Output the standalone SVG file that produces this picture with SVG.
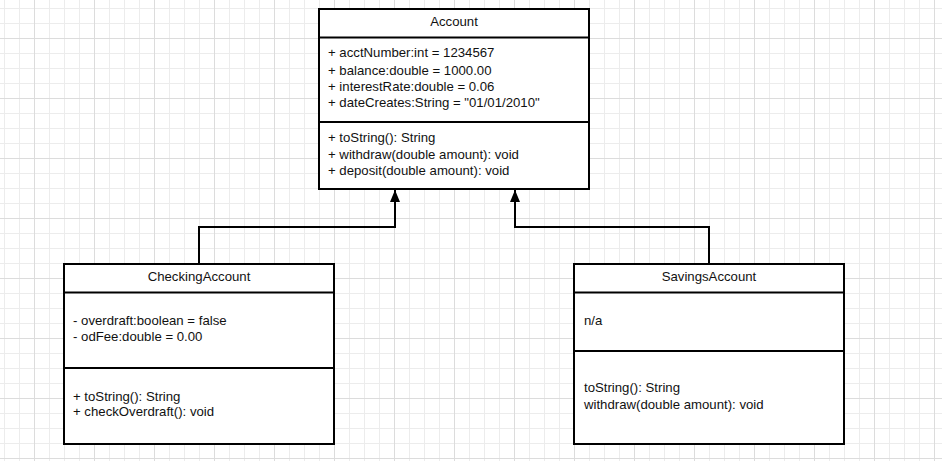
<svg xmlns="http://www.w3.org/2000/svg" width="942" height="461" viewBox="0 0 942 461">
  <style>
    .box { fill: #ffffff; stroke: #000000; stroke-width: 2; }
    .div { stroke: #000000; stroke-width: 2; fill: none; }
    .t { font-family: "Liberation Sans", Arial, sans-serif; font-size: 13.2px; fill: #111111; }
    .c { text-anchor: middle; }
    .edge { fill: none; stroke: #000000; stroke-width: 2; }
  </style>
  <defs>
    <pattern id="grid" patternUnits="userSpaceOnUse" x="34" y="38" width="60" height="60">
      <path d="M15.5 0V60M30.5 0V60M45.5 0V60M0 15.5H60M0 30.5H60M0 45.5H60" stroke="#ececec" stroke-width="1" fill="none"/>
      <path d="M0.5 0V60M0 0.5H60" stroke="#dcdcdc" stroke-width="1" fill="none"/>
    </pattern>
    <marker id="arrow" markerUnits="userSpaceOnUse" markerWidth="12" markerHeight="14" refX="12" refY="6" orient="auto" viewBox="0 0 12 12">
      <path d="M0 1 L12 6 L0 11 Z" fill="#000000"/>
    </marker>
  </defs>
  <rect width="942" height="461" fill="#ffffff"/>
  <rect width="942" height="461" fill="url(#grid)"/>

  <g id="connectors">
    <path class="edge" d="M199 264 V227 H395 V190" marker-end="url(#arrow)"/>
    <path class="edge" d="M709 264 V227 H515 V190" marker-end="url(#arrow)"/>
  </g>

  <g id="Account">
    <rect class="box" x="319" y="9" width="270" height="180"/>
    <line class="div" x1="319" y1="37.5" x2="589" y2="37.5"/>
    <line class="div" x1="319" y1="122" x2="589" y2="122"/>
    <text class="t c" x="454" y="26">Account</text>
    <text class="t" x="328" y="57">+ acctNumber:int = 1234567</text>
    <text class="t" x="328" y="74.5">+ balance:double = 1000.00</text>
    <text class="t" x="328" y="90.5">+ interestRate:double = 0.06</text>
    <text class="t" x="328" y="106.5">+ dateCreates:String = "01/01/2010"</text>
    <text class="t" x="328" y="141.5">+ toString(): String</text>
    <text class="t" x="328" y="158.5">+ withdraw(double amount): void</text>
    <text class="t" x="328" y="174.5">+ deposit(double amount): void</text>
  </g>

  <g id="CheckingAccount">
    <rect class="box" x="64" y="264" width="270" height="180"/>
    <line class="div" x1="64" y1="292.5" x2="334" y2="292.5"/>
    <line class="div" x1="64" y1="368" x2="334" y2="368"/>
    <text class="t c" x="199" y="281">CheckingAccount</text>
    <text class="t" x="73" y="325">- overdraft:boolean = false</text>
    <text class="t" x="73" y="340.5">- odFee:double = 0.00</text>
    <text class="t" x="73" y="401">+ toString(): String</text>
    <text class="t" x="73" y="416">+ checkOverdraft(): void</text>
  </g>

  <g id="SavingsAccount">
    <rect class="box" x="574" y="264" width="270" height="180"/>
    <line class="div" x1="574" y1="292.5" x2="844" y2="292.5"/>
    <line class="div" x1="574" y1="351" x2="844" y2="351"/>
    <text class="t c" x="709" y="281">SavingsAccount</text>
    <text class="t" x="584" y="325">n/a</text>
    <text class="t" x="584" y="392">toString(): String</text>
    <text class="t" x="584" y="408.5">withdraw(double amount): void</text>
  </g>
</svg>
